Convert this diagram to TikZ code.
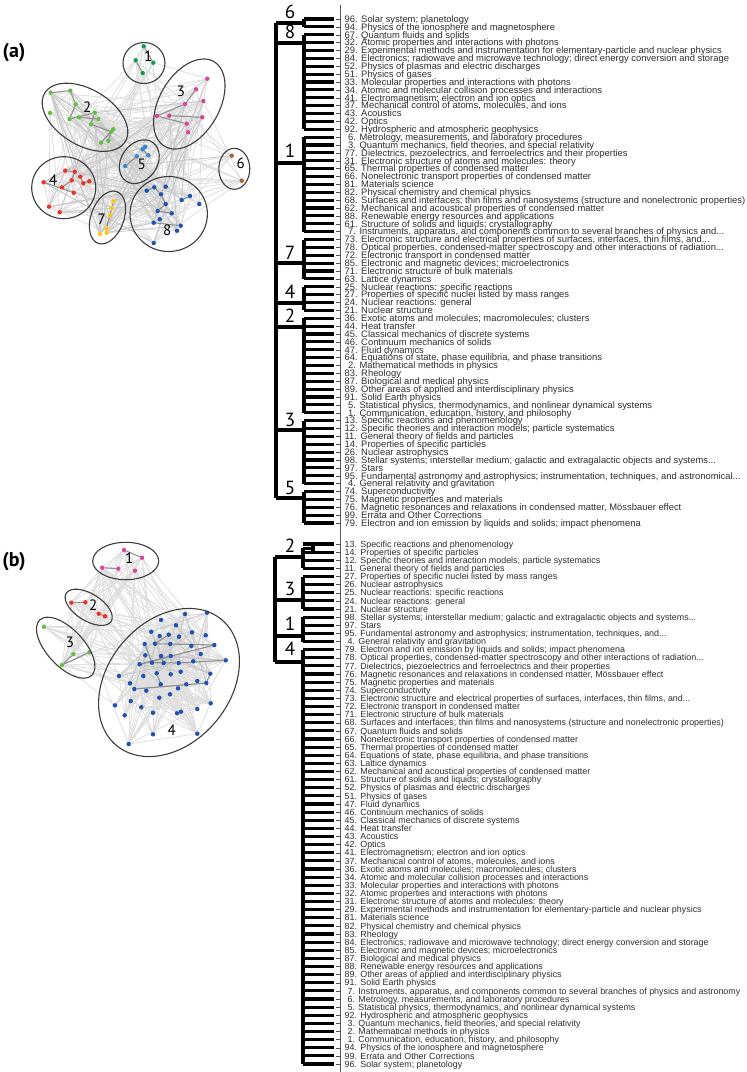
\documentclass[tikz,border=0pt]{standalone}
\usepackage{fontspec}
\setmainfont{Liberation Sans}
\newfontfamily\lblfont{PT Sans}
\usetikzlibrary{backgrounds}
\definecolor{cGreenD}{HTML}{1A9850}
\definecolor{cGreenL}{HTML}{66BD45}
\definecolor{cPink}{HTML}{D8469B}
\definecolor{cRed}{HTML}{E8322A}
\definecolor{cLBlue}{HTML}{3C87CA}
\definecolor{cBrown}{HTML}{A7643A}
\definecolor{cYellow}{HTML}{F8C71B}
\definecolor{cDBlue}{HTML}{2052AE}
\definecolor{edgec}{HTML}{DEDEDE}
\definecolor{edgem}{HTML}{C8C8C8}
\definecolor{edged}{HTML}{909090}
\definecolor{ellc}{HTML}{3C3C3C}
\definecolor{txt}{HTML}{2E2E2E}
\definecolor{tickc}{HTML}{555555}
\begin{document}
\begin{tikzpicture}[x=1pt,y=-1pt,
  dot/.style={circle,inner sep=0pt,minimum size=4.5pt},
  ell/.style={draw=ellc,line width=1.1pt},
  eg/.style={draw=edgec,line width=0.8pt},
  egm/.style={draw=edgem,line width=0.9pt},
  egd/.style={draw=edged,line width=1.1pt},
  den/.style={line width=3.1pt},
  tick/.style={draw=tickc,line width=0.5pt},
  labA/.style={font=\fontsize{9.4}{9.4}\selectfont,text=txt,inner sep=0pt,anchor=base west},
  labB/.style={font=\fontsize{8.9}{8.9}\selectfont,text=txt,inner sep=0pt,anchor=base west},
  clab/.style={font=\lblfont\fontsize{19}{19}\selectfont,inner sep=0pt},
  nlab/.style={font=\lblfont\fontsize{15}{15}\selectfont,inner sep=0pt},
  plab/.style={font=\lblfont\bfseries\fontsize{20}{20}\selectfont,inner sep=0pt},
]
\useasboundingbox (0,0) rectangle (747,1072);

% ---------------- network (a) ----------------
\node[plab] (pa) at (14,53) {(a)};
\foreach \p [count=\i] in {(143.7,46.3),(135.7,60.3),(153.3,62.7),(142.7,73)}
  \node[dot,fill=cGreenD] (a\i) at \p {};
\foreach \p [count=\i from 5] in {(50.7,92.7),(70.3,90.7),(75.7,104.3),(50,113),(69.7,119),(79,117.3),(94.7,112.7),(98.3,119),(91,124.3),(111.3,131.7),(113.3,129.3),(108.3,140.7),(101,142.7)}
  \node[dot,fill=cGreenL] (a\i) at \p {};
\foreach \p [count=\i from 18] in {(207.3,78.7),(196,89.3),(203.3,101),(185,104),(157,116),(169.3,115.7),(202.3,117.3),(186.7,123.7),(188.3,132.3)}
  \node[dot,fill=cPink] (a\i) at \p {};
\foreach \p [count=\i from 27] in {(65.3,170.7),(74.7,171.7),(80.3,176.7),(71.7,180.3),(43.7,182.3),(62,187.3),(83.3,183.3),(89.3,181.3),(73.7,192.7),(49,206.7),(59.7,212.3)}
  \node[dot,fill=cRed] (a\i) at \p {};
\foreach \p [count=\i from 38] in {(145.3,146.7),(142.7,149.3),(136.7,156.3),(148.3,155.3),(125.3,166)}
  \node[dot,fill=cLBlue] (a\i) at \p {};
\foreach \p [count=\i from 43] in {(231.7,155.7),(241.7,180.7)}
  \node[dot,fill=cBrown] (a\i) at \p {};
\foreach \p [count=\i from 45] in {(113.3,201.3),(111.7,208),(110,215.3),(106.3,228.3),(106.7,232.7),(100,234)}
  \node[dot,fill=cYellow] (a\i) at \p {};
\foreach \p [count=\i from 51] in {(146.7,190.7),(154.3,187.3),(165.7,186.7),(161,194.3),(165.7,204),(181.7,200),(190,196),(199.3,204),(157.7,211),(171.7,213.3),(159.7,219.3),(153.7,222.7),(180.7,225.7),(177,230.7),(153.7,243)}
  \node[dot,fill=cDBlue] (a\i) at \p {};

\begin{scope}[on background layer]
\pgfmathsetseed{11}
\foreach \k in {1,...,330}{
  \pgfmathtruncatemacro\p{random(1,65)}
  \pgfmathtruncatemacro\q{random(5,65)}
  \ifnum\p=\q\relax\else\draw[eg] (a\p) -- (a\q);\fi
}
\foreach \k in {1,...,60}{
  \pgfmathtruncatemacro\p{random(5,65)}
  \pgfmathtruncatemacro\q{random(5,65)}
  \ifnum\p=\q\relax\else\draw[egm] (a\p) -- (a\q);\fi
}
\foreach \u/\v in {5/6,6/7,7/9,9/11,11/13,13/14,14/16,15/17,10/12,27/28,28/30,29/33,30/32,31/35,33/34,38/39,39/41,40/42,45/46,46/47,47/48,48/49,51/52,52/54,54/55,55/59,59/60,56/57,62/63,19/21,21/22,22/25,23/24,1/3,2/4}
  \draw[egd] (a\u) -- (a\v);
\end{scope}

\draw[ell] (144,63) ellipse [x radius=21, y radius=20.5];
\draw[ell,rotate around={-31:(85,117.3)}] (85,117.3) ellipse [x radius=47, y radius=28];
\draw[ell,rotate around={60:(189.3,104)}] (189.3,104) ellipse [x radius=49, y radius=30];
\draw[ell] (63.7,187.7) ellipse [x radius=32, y radius=31];
\draw[ell,rotate around={55:(139.3,161.7)}] (139.3,161.7) ellipse [x radius=23.5, y radius=18];
\draw[ell] (234.3,168.8) ellipse [x radius=15.5, y radius=20.5];
\draw[ell,rotate around={70:(107.5,217.5)}] (107.5,217.5) ellipse [x radius=27.5, y radius=16.5];
\draw[ell] (168.7,214) ellipse [x radius=38.7, y radius=37.5];

\node[nlab] (na1) at (148.3,56) {1};
\node[nlab] (na2) at (87.3,106.7) {2};
\node[nlab] (na3) at (181,91) {3};
\node[nlab] (na4) at (53.3,180) {4};
\node[nlab] (na5) at (141.7,164) {5};
\node[nlab] (na6) at (240.7,163.3) {6};
\node[nlab] (na7) at (101.7,219) {7};
\node[nlab] (na8) at (167.3,230.7) {8};

% ---------------- network (b) ----------------
\node[plab] (pb) at (14,562) {(b)};
\foreach \p [count=\i] in {(124,550),(142,557.7),(102.3,567.7),(118.3,568.7),(135,570.7)}
  \node[dot,fill=cPink] (b\i) at \p {};
\foreach \p [count=\i from 6] in {(71.3,602.7),(85.3,602.3),(98.7,613.7),(105,616.3)}
  \node[dot,fill=cRed] (b\i) at \p {};
\foreach \p [count=\i from 10] in {(44,626.7),(73.3,654.3),(89.3,652.3),(62,665)}
  \node[dot,fill=cGreenL] (b\i) at \p {};
\foreach \p [count=\i from 14] in {(185,614),(207,612.7),(161,620),(176,625.3),(192,632.3),(151.3,631.7),(179,636.7),(159.7,636),(168.7,634.7),(205.7,635.3),(144.7,644),(155,643.7),(170.3,644),(191.3,646),(214.3,645),(145.3,655.3),(161,656),(170.7,656),(200.7,654),(139.7,664.3),(152,662.7),(163.7,663),(178.7,663),(193.3,661.3),(225.7,660.3),(119,676),(143.3,676),(156.7,673.3),(170.7,674.3),(180.7,671.7),(210.3,673.7),(130,683.3),(160.7,684.3),(186.3,684.3),(197.3,681),(206.3,683),(134.3,689),(146.3,690.7),(178,688.3),(159.3,697.7),(170,694.3),(130.7,701),(115,705.3),(141.3,707.3),(210.7,703.3),(124.7,715.3),(153,712.7),(177,713.3),(181,711.7),(197.3,709),(153,734.3),(197.3,733.7),(128.7,744)}
  \node[dot,fill=cDBlue] (b\i) at \p {};

\begin{scope}[on background layer]
\pgfmathsetseed{5}
\foreach \k in {1,...,380}{
  \pgfmathtruncatemacro\p{random(1,66)}
  \pgfmathtruncatemacro\q{random(14,66)}
  \ifnum\p=\q\relax\else\draw[eg] (b\p) -- (b\q);\fi
}
\foreach \k in {1,...,60}{
  \pgfmathtruncatemacro\p{random(1,13)}
  \pgfmathtruncatemacro\q{random(1,13)}
  \ifnum\p=\q\relax\else\draw[eg] (b\p) -- (b\q);\fi
}
\foreach \k in {1,...,40}{
  \pgfmathtruncatemacro\p{random(14,50)}
  \pgfmathtruncatemacro\q{random(14,50)}
  \ifnum\p=\q\relax\else\draw[egm] (b\p) -- (b\q);\fi
}
\foreach \u/\v in {11/13,13/12,6/7,8/9,1/2,3/4,22/25,25/28,28/33,33/31,24/34,34/36,36/38,44/49,49/50,30/35,41/46}
  \draw[egd] (b\u) -- (b\v);
\end{scope}

\draw[ell] (125.7,561) ellipse [x radius=33, y radius=18.7];
\draw[ell,rotate around={-32:(88.7,607.3)}] (88.7,607.3) ellipse [x radius=26.5, y radius=13.5];
\draw[ell,rotate around={-47:(65.7,647.7)}] (65.7,647.7) ellipse [x radius=38, y radius=18.5];
\draw[ell,rotate around={50:(169,682.5)}] (169,682.5) ellipse [x radius=82, y radius=61];

\node[nlab] (nb1) at (129.3,557.7) {1};
\node[nlab] (nb2) at (93.3,605) {2};
\node[nlab] (nb3) at (70,642.3) {3};
\node[nlab] (nb4) at (171.7,730) {4};

% ---------------- axis ----------------
\coordinate (axT) at (340,5);
\coordinate (axB) at (340,1072);
\draw[tick] (axT) -- (axB);

% ---------------- leaves (a) ----------------
\foreach \n/\t [count=\i from 0] in {
96/{Solar system; planetology},
94/{Physics of the ionosphere and magnetosphere},
67/{Quantum fluids and solids},
32/{Atomic properties and interactions with photons},
29/{Experimental methods and instrumentation for elementary-particle and nuclear physics},
84/{Electronics; radiowave and microwave technology; direct energy conversion and storage},
52/{Physics of plasmas and electric discharges},
51/{Physics of gases},
33/{Molecular properties and interactions with photons},
34/{Atomic and molecular collision processes and interactions},
41/{Electromagnetism; electron and ion optics},
37/{Mechanical control of atoms, molecules, and ions},
43/{Acoustics},
42/{Optics},
92/{Hydrospheric and atmospheric geophysics},
6/{Metrology, measurements, and laboratory procedures},
3/{Quantum mechanics, field theories, and special relativity},
77/{Dielectrics, piezoelectrics, and ferroelectrics and their properties},
31/{Electronic structure of atoms and molecules: theory},
65/{Thermal properties of condensed matter},
66/{Nonelectronic transport properties of condensed matter},
81/{Materials science},
82/{Physical chemistry and chemical physics},
68/{Surfaces and interfaces; thin films and nanosystems (structure and nonelectronic properties)},
62/{Mechanical and acoustical properties of condensed matter},
88/{Renewable energy resources and applications},
61/{Structure of solids and liquids; crystallography},
7/{Instruments, apparatus, and components common to several branches of physics and...},
73/{Electronic structure and electrical properties of surfaces, interfaces, thin films, and...},
78/{Optical properties, condensed-matter spectroscopy and other interactions of radiation...},
72/{Electronic transport in condensed matter},
85/{Electronic and magnetic devices; microelectronics},
71/{Electronic structure of bulk materials},
63/{Lattice dynamics},
25/{Nuclear reactions: specific reactions},
27/{Properties of specific nuclei listed by mass ranges},
24/{Nuclear reactions: general},
21/{Nuclear structure},
36/{Exotic atoms and molecules; macromolecules; clusters},
44/{Heat transfer},
45/{Classical mechanics of discrete systems},
46/{Continuum mechanics of solids},
47/{Fluid dynamics},
64/{Equations of state, phase equilibria, and phase transitions},
2/{Mathematical methods in physics},
83/{Rheology},
87/{Biological and medical physics},
89/{Other areas of applied and interdisciplinary physics},
91/{Solid Earth physics},
5/{Statistical physics, thermodynamics, and nonlinear dynamical systems},
1/{Communication, education, history, and philosophy},
13/{Specific reactions and phenomenology},
12/{Specific theories and interaction models; particle systematics},
11/{General theory of fields and particles},
14/{Properties of specific particles},
26/{Nuclear astrophysics},
98/{Stellar systems; interstellar medium; galactic and extragalactic objects and systems...},
97/{Stars},
95/{Fundamental astronomy and astrophysics; instrumentation, techniques, and astronomical...},
4/{General relativity and gravitation},
74/{Superconductivity},
75/{Magnetic properties and materials},
76/{Magnetic resonances and relaxations in condensed matter, M\"ossbauer effect},
99/{Errata and Other Corrections},
79/{Electron and ion emission by liquids and solids; impact phenomena}}{
  \pgfmathsetmacro\yy{19+7.875*\i}
  \pgfmathsetmacro\yb{\yy+3.3}
  \coordinate (sa\i) at (304,\yy);
  \coordinate (ea\i) at (334,\yy);
  \draw[den] (sa\i) -- (ea\i);
  \draw[tick] (336,\yy) -- (axT |- ea\i);
  \node[labA] (la\i) at (344.5,\yb) {\ifnum\n<10\hspace{3.5pt}\fi\n. \t};
}

% ---------------- leaves (b) ----------------
\foreach \n/\t [count=\i from 0] in {
13/{Specific reactions and phenomenology},
14/{Properties of specific particles},
12/{Specific theories and interaction models; particle systematics},
11/{General theory of fields and particles},
27/{Properties of specific nuclei listed by mass ranges},
26/{Nuclear astrophysics},
25/{Nuclear reactions: specific reactions},
24/{Nuclear reactions: general},
21/{Nuclear structure},
98/{Stellar systems; interstellar medium; galactic and extragalactic objects and systems...},
97/{Stars},
95/{Fundamental astronomy and astrophysics; instrumentation, techniques, and...},
4/{General relativity and gravitation},
79/{Electron and ion emission by liquids and solids; impact phenomena},
78/{Optical properties, condensed-matter spectroscopy and other interactions of radiation...},
77/{Dielectrics, piezoelectrics and ferroelectrics and their properties},
76/{Magnetic resonances and relaxations in condensed matter, M\"ossbauer effect},
75/{Magnetic properties and materials},
74/{Superconductivity},
73/{Electronic structure and electrical properties of surfaces, interfaces, thin films, and...},
72/{Electronic transport in condensed matter},
71/{Electronic structure of bulk materials},
68/{Surfaces and interfaces; thin films and nanosystems (structure and nonelectronic properties)},
67/{Quantum fluids and solids},
66/{Nonelectronic transport properties of condensed matter},
65/{Thermal properties of condensed matter},
64/{Equations of state, phase equilibria, and phase transitions},
63/{Lattice dynamics},
62/{Mechanical and acoustical properties of condensed matter},
61/{Structure of solids and liquids; crystallography},
52/{Physics of plasmas and electric discharges},
51/{Physics of gases},
47/{Fluid dynamics},
46/{Continuum mechanics of solids},
45/{Classical mechanics of discrete systems},
44/{Heat transfer},
43/{Acoustics},
42/{Optics},
41/{Electromagnetism; electron and ion optics},
37/{Mechanical control of atoms, molecules, and ions},
36/{Exotic atoms and molecules; macromolecules; clusters},
34/{Atomic and molecular collision processes and interactions},
33/{Molecular properties and interactions with photons},
32/{Atomic properties and interactions with photons},
31/{Electronic structure of atoms and molecules: theory},
29/{Experimental methods and instrumentation for elementary-particle and nuclear physics},
81/{Materials science},
82/{Physical chemistry and chemical physics},
83/{Rheology},
84/{Electronics; radiowave and microwave technology; direct energy conversion and storage},
85/{Electronic and magnetic devices; microelectronics},
87/{Biological and medical physics},
88/{Renewable energy resources and applications},
89/{Other areas of applied and interdisciplinary physics},
91/{Solid Earth physics},
7/{Instruments, apparatus, and components common to several branches of physics and astronomy},
6/{Metrology, measurements, and laboratory procedures},
5/{Statistical physics, thermodynamics, and nonlinear dynamical systems},
92/{Hydrospheric and atmospheric geophysics},
3/{Quantum mechanics, field theories, and special relativity},
2/{Mathematical methods in physics},
1/{Communication, education, history, and philosophy},
94/{Physics of the ionosphere and magnetosphere},
99/{Errata and Other Corrections},
96/{Solar system; planetology}}{
  \pgfmathsetmacro\yy{544+8.125*\i}
  \pgfmathsetmacro\yb{\yy+3.2}
  \coordinate (sb\i) at (303,\yy);
  \coordinate (eb\i) at (334,\yy);
  \draw[den] (sb\i) -- (eb\i);
  \draw[tick] (336,\yy) -- (axT |- eb\i);
  \node[labB] (lb\i) at (344.5,\yb) {\ifnum\n<10\hspace{3pt}\fi\n. \t};
}

% ---------------- dendrogram (a) ----------------
\draw[den] (sa0) -- (sa1);
\draw[den] (sa2) -- (sa14);
\draw[den] (sa15) -- (sa27);
\draw[den] (sa28) -- (sa33);
\draw[den] (sa34) -- (sa37);
\draw[den] (sa38) -- (sa50);
\draw[den] (sa51) -- (sa59);
\draw[den] (sa60) -- (sa64);
\foreach \yl in {23,43,163,263,303,327,430,498}
  \draw[den] (276,\yl) -- (304,\yl);
\draw[den] (276,23) -- (276,498);
\node[clab] (ka6) at (290,12) {6};
\node[clab] (ka8) at (290,32) {8};
\node[clab] (ka1) at (290,151) {1};
\node[clab] (ka7) at (290,253) {7};
\node[clab] (ka4) at (290,292) {4};
\node[clab] (ka2) at (290,316) {2};
\node[clab] (ka3) at (290,420) {3};
\node[clab] (ka5) at (290,488) {5};

% ---------------- dendrogram (b) ----------------
\coordinate (sb01) at (313,548.1);
\draw[den] (313,544) -- (313,552.1);
\draw[den] (sb01) -- (303,548.1);
\draw[den] (303,548.1) -- (sb3);
\draw[den] (sb4) -- (sb8);
\draw[den] (sb9) -- (sb12);
\draw[den] (sb13) -- (sb64);
\foreach \yl in {557,600,636,662}
  \draw[den] (275,\yl) -- (303,\yl);
\draw[den] (275,557) -- (275,662);
\node[clab] (kb2) at (290,546) {2};
\node[clab] (kb3) at (290,589) {3};
\node[clab] (kb1) at (290,624) {1};
\node[clab] (kb4) at (290,649) {4};
\end{tikzpicture}
\end{document}
